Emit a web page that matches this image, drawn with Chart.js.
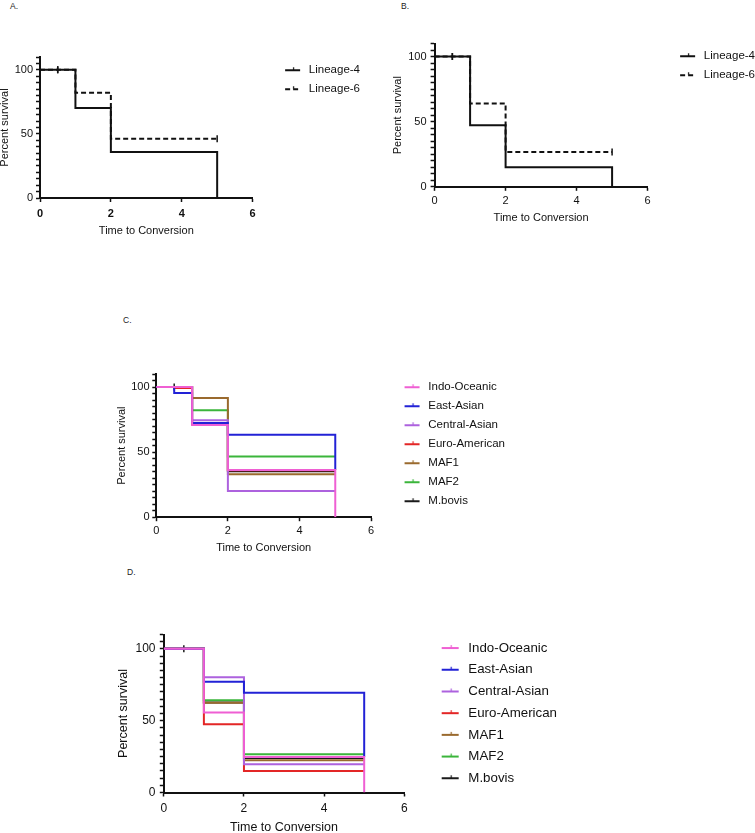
<!DOCTYPE html>
<html>
<head>
<meta charset="utf-8">
<script src="https://cdn.jsdelivr.net/npm/chart.js@4.4.1/dist/chart.umd.min.js"></script>
<style>
  html, body { margin: 0; padding: 0; background: #fff; overflow: hidden; width: 755px; height: 833px; }
  canvas { position: absolute; }
  .tag { position: absolute; font: 8.5px "Liberation Sans", Arial, sans-serif; color: #222; }
</style>
</head>
<body>
<div class="tag" style="left:10px;top:1px">A.</div>
<div class="tag" style="left:401px;top:1px">B.</div>
<div class="tag" style="left:123px;top:315px">C.</div>
<div class="tag" style="left:127px;top:567px">D.</div>
<canvas id="chartA"></canvas>
<canvas id="chartB"></canvas>
<canvas id="chartC"></canvas>
<canvas id="chartD"></canvas>
<script>
// shared time points (x) for every curve
const times = [0, 0.5, 1, 2, 5];
const xMax = 6, xStep = 2;
const yMax = 110, yStep = 5, yLabelEvery = 50;

// panels A and B
const lineageLabels = ['Lineage-4', 'Lineage-6'];
const lineage4A = [100, 100, 70.3, 35.8, 0];
const lineage6A = [100, 100, 82.1, 46.3, 46.3];
const lineage4B = [100, 100, 47.2, 15, 0];
const lineage6B = [100, 100, 64, 26.8, 26.8];

// panels C and D
const groupNames = ['Indo-Oceanic', 'East-Asian', 'Central-Asian', 'Euro-American', 'MAF1', 'MAF2', 'M.bovis'];
const groupColors = ['#ef5fd3', '#2222d6', '#ad62de', '#e32626', '#9a6a2e', '#3bb53b', '#1a1a1a'];

const indoC    = [100, 100, 70.9, 36.3, 0];
const eastC    = [100, 95.4, 72.4, 63.4, 36.3];
const centralC = [100, 100, 74.5, 20.1, 20.1];
const euroC    = [100, 99.2, 71.2, 36, 36];
const maf1C    = [100, 100, 91.5, 33, 33];
const maf2C    = [100, 100, 82.2, 46.6, 46.6];
const bovisC   = [100, 100, 72, 35.3, 35.3];

const indoD    = [100, 100, 55.7, 24.8, 0];
const eastD    = [100, 100, 77.1, 69.5, 24.8];
const centralD = [100, 100, 80.3, 19.7, 19.7];
const euroD    = [100, 100, 47.5, 14.9, 14.9];
const maf1D    = [100, 100, 62.5, 22.5, 22.5];
const maf2D    = [100, 100, 64.2, 26.6, 26.6];
const bovisD   = [100, 100, 62.6, 24, 24];

// censored observations (index into times)
const censorLineage4 = [1];
const censorLineage6 = [1, 4];
const censorGroups = [[], [], [], [], [], [], [1]];

const FONT = '"Liberation Sans", Arial, Helvetica, sans-serif';
const INK = '#111';

function legendIcon(color, dash, w, x0, x1) {
    let c = document.createElement('canvas');
    c.width = w;
    c.height = 8;
    let g = c.getContext('2d');
    g.strokeStyle = color;
    g.lineWidth = 2;
    g.setLineDash(dash || []);
    g.beginPath(); g.moveTo(x0, 4); g.lineTo(x1, 4); g.stroke();
    g.setLineDash([]);
    g.lineWidth = 1.2;
    let mx = Math.round((x0 + x1) / 2) + 0.5;
    g.beginPath(); g.moveTo(mx, 1); g.lineTo(mx, 4); g.stroke();
    return c;
}

function makeDatasets(names, series, colors, dashes, censors) {
    return names.map((name, k) => ({
        label: name,
        data: times.map((t, i) => ({x: t, y: series[k][i]})),
        borderColor: colors[k],
        borderWidth: 2,
        borderDash: dashes[k],
        stepped: true,
        fill: false,
        pointStyle: 'line',
        rotation: 90,
        pointRadius: (ctx) => censors[k].includes(ctx.dataIndex) ? 3.5 : 0,
        pointBorderColor: colors[k],
        pointBorderWidth: 1.5
    }));
}

function drawPanel(id, g, datasets) {
    let meas = document.createElement('canvas').getContext('2d');
    meas.font = g.legendSize + 'px ' + FONT;
    let textW = Math.max(...datasets.map(d => meas.measureText(d.label).width));
    let legendW = g.legendPad + g.boxW + g.legendSize / 2 + textW + 10;
    let yW = g.plotLeft - g.left;

    let canvas = document.getElementById(id);
    canvas.width = Math.round(yW + (g.plotRight - g.plotLeft) + legendW);
    canvas.height = Math.round(10 + g.plotBottom - g.plotTop + g.xH);
    canvas.style.left = g.left + 'px';
    canvas.style.top = (g.plotTop - 10) + 'px';

    let axisGrid = { display: true, drawOnChartArea: false, tickLength: 4, tickWidth: 1.5, tickColor: INK };
    let axisBorder = { display: true, color: INK, width: 2 };

    let config = {
        type: 'line',
        data: { datasets: datasets },
        options: {
            responsive: false,
            animation: false,
            events: [],
            layout: { padding: { top: 10, left: 0, right: 0, bottom: 0 } },
            plugins: {
                tooltip: { enabled: false },
                legend: {
                    position: 'right',
                    align: 'start',
                    fullSize: true,
                    maxWidth: 1000,
                    labels: {
                        usePointStyle: true,
                        pointStyleWidth: g.boxW,
                        padding: g.legendPad,
                        color: INK,
                        font: { family: FONT, size: g.legendSize },
                        generateLabels: (chart) => chart.data.datasets.map((ds, i) => ({
                            text: ds.label,
                            datasetIndex: i,
                            fontColor: INK,
                            hidden: false,
                            lineWidth: 0,
                            pointStyle: legendIcon(ds.borderColor, ds.borderDash, g.boxW, g.boxW - 3 - g.markLen, g.boxW - 3)
                        }))
                    }
                }
            },
            scales: {
                x: {
                    type: 'linear',
                    min: 0,
                    max: xMax,
                    ticks: {
                        stepSize: xStep,
                        maxRotation: 0,
                        padding: g.xPad,
                        color: INK,
                        font: { family: FONT, size: g.tickSize, weight: g.xBold ? 'bold' : 'normal' }
                    },
                    grid: axisGrid,
                    border: axisBorder,
                    title: { display: true, text: 'Time to Conversion', color: INK, padding: 0,
                             font: { family: FONT, size: g.titleSize } },
                    afterFit: (s) => { s.height = g.xH; }
                },
                y: {
                    type: 'linear',
                    min: 0,
                    max: yMax,
                    ticks: {
                        stepSize: yStep,
                        autoSkip: false,
                        padding: g.yPad,
                        color: INK,
                        font: { family: FONT, size: g.tickSize },
                        callback: (v) => v % yLabelEvery === 0 ? String(v) : ''
                    },
                    grid: axisGrid,
                    border: axisBorder,
                    title: { display: true, text: 'Percent survival', color: INK, padding: 0,
                             font: { family: FONT, size: g.titleSize } },
                    afterFit: (s) => { s.width = yW; }
                }
            }
        }
    };
    return new Chart(canvas, config);
}

const lineageColors = [INK, INK];
const lineageDashes = [[], [5, 3]];
const groupDashes = groupNames.map(() => []);

drawPanel('chartA', {
    left: -2, plotLeft: 40, plotRight: 253, plotTop: 57, plotBottom: 197.5, xH: 40,
    xPad: 5, yPad: 3, tickSize: 11, titleSize: 11, xBold: true,
    legendSize: 11.5, legendPad: 7.5, boxW: 43, markLen: 15
}, makeDatasets(lineageLabels, [lineage4A, lineage6A], lineageColors, lineageDashes, [censorLineage4, censorLineage6]));

drawPanel('chartB', {
    left: 391.4, plotLeft: 435, plotRight: 647.7, plotTop: 43, plotBottom: 186.7, xH: 38.2,
    xPad: 3.7, yPad: 4, tickSize: 11, titleSize: 11, xBold: false,
    legendSize: 11.5, legendPad: 7.5, boxW: 43, markLen: 15
}, makeDatasets(lineageLabels, [lineage4B, lineage6B], lineageColors, lineageDashes, [censorLineage4, censorLineage6]));

drawPanel('chartC', {
    left: 115.4, plotLeft: 156.7, plotRight: 371.7, plotTop: 373.7, plotBottom: 516.5, xH: 37.8,
    xPad: 3.6, yPad: 2.7, tickSize: 11, titleSize: 11, xBold: false,
    legendSize: 11.5, legendPad: 7.5, boxW: 44, markLen: 15
}, makeDatasets(groupNames, [indoC, eastC, centralC, euroC, maf1C, maf2C, bovisC], groupColors, groupDashes, censorGroups));

drawPanel('chartD', {
    left: 115.5, plotLeft: 163.3, plotRight: 404, plotTop: 632.8, plotBottom: 792.7, xH: 42.5,
    xPad: 5.4, yPad: 4.3, tickSize: 12, titleSize: 12.5, xBold: false,
    legendSize: 13.3, legendPad: 8.4, boxW: 49, markLen: 17
}, makeDatasets(groupNames, [indoD, eastD, centralD, euroD, maf1D, maf2D, bovisD], groupColors, groupDashes, censorGroups));
</script>
</body>
</html>
